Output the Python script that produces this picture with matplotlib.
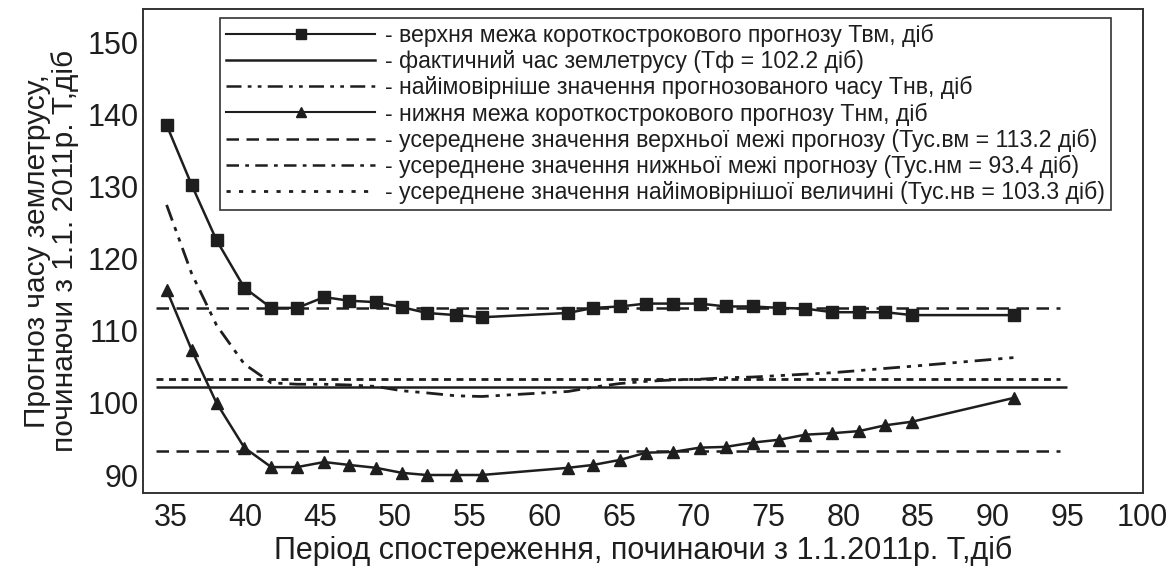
import matplotlib
matplotlib.use('Agg')
import matplotlib.pyplot as plt
from matplotlib.lines import Line2D

plt.rcParams['font.family'] = ['Liberation Sans', 'DejaVu Sans']

# observation period, days from 1.1.2011
period = [34.73, 36.4, 38.07, 39.93, 41.73, 43.47, 45.27, 46.93, 48.73, 50.47,
          52.13, 54.07, 55.8, 61.6, 63.27, 65.07, 66.8, 68.6, 70.4, 72.13,
          73.93, 75.73, 77.47, 79.27, 81.07, 82.8, 84.6, 91.4]

upper = [138.6, 130.3, 122.6, 116.0, 113.2, 113.2, 114.7, 114.2, 114.0, 113.3,
         112.5, 112.2, 111.9, 112.5, 113.2, 113.4, 113.8, 113.8, 113.8, 113.4,
         113.4, 113.2, 113.1, 112.6, 112.6, 112.6, 112.2, 112.2]

likely = [127.5, 118.0, 110.8, 105.4, 102.8, 102.6, 102.6, 102.5, 102.3, 101.7,
          101.4, 101.0, 100.9, 101.6, 102.2, 102.7, 103.0, 103.2, 103.3, 103.5,
          103.6, 103.8, 104.0, 104.2, 104.5, 104.8, 105.1, 106.3]

lower = [115.7, 107.4, 100.0, 93.8, 91.1, 91.1, 91.8, 91.4, 91.0, 90.3,
         90.0, 90.0, 90.0, 91.0, 91.4, 92.1, 93.1, 93.2, 93.8, 93.9,
         94.5, 94.9, 95.6, 95.8, 96.1, 96.9, 97.4, 100.7]

t_fact = 102.2
t_avg_upper = 113.2
t_avg_lower = 93.4
t_avg_likely = 103.3

labels = [
    '- верхня межа короткострокового прогнозу Твм, діб',
    '- фактичний час землетрусу (Тф = 102.2 діб)',
    '- найімовірніше значення прогнозованого часу Тнв, діб',
    '- нижня межа короткострокового прогнозу Тнм, діб',
    '- усереднене значення верхньої межі прогнозу (Тус.вм = 113.2 діб)',
    '- усереднене значення нижньої межі прогнозу (Тус.нм = 93.4 діб)',
    '- усереднене значення найімовірнішої величині (Тус.нв = 103.3 діб)',
]

ink = '#1e1e1e'
dash_dot_dot = (0, (6, 2.5, 1.5, 2.5, 1.5, 2.5))
dash_dot = (0, (5, 2.5, 1.5, 2.5))

fig = plt.figure(figsize=(11.73, 5.73), dpi=100)
ax = fig.add_axes([0.1219, 0.1396, 0.8525, 0.8447])

ax.hlines(t_avg_upper, 34, 94.5, colors=ink, linestyles=(0, (5, 3)), lw=1.8)
ax.hlines(t_avg_lower, 34, 94.5, colors=ink, linestyles=(0, (5, 3)), lw=1.8)
ax.hlines(t_avg_likely, 34, 94.5, colors=ink, linestyles=(0, (2.5, 2)), lw=2)
ax.hlines(t_fact, 34, 95, colors=ink, lw=1.8)

ax.plot(period, likely, color=ink, lw=2, linestyle=dash_dot_dot)
ax.plot(period, upper, color=ink, lw=1.8, marker='s', markersize=9)
ax.plot(period, lower, color=ink, lw=1.8, marker='^', markersize=8)

ax.set_xlim(33.15, 100.05)
ax.set_ylim(87.5, 154.7)
ax.set_xticks(range(35, 101, 5))
ax.set_yticks(range(90, 151, 10))
ax.tick_params(length=0, labelsize=22, colors=ink)
ax.tick_params(axis='x', pad=7)
ax.tick_params(axis='y', pad=3)
for s in ax.spines.values():
    s.set_color('#333333')
    s.set_linewidth(1.4)

ax.set_xlabel('Період спостереження, починаючи з 1.1.2011р. Т,діб',
              fontsize=22, color=ink, labelpad=2)
ax.set_ylabel('Прогноз часу землетрусу,\nпочинаючи з 1.1. 2011р. Т,діб',
              fontsize=21.5, color=ink, labelpad=6, linespacing=1.0)

handles = [
    Line2D([], [], color=ink, lw=1.5, marker='s', markersize=7),
    Line2D([], [], color=ink, lw=1.8),
    Line2D([], [], color=ink, lw=1.8, linestyle=dash_dot_dot),
    Line2D([], [], color=ink, lw=1.5, marker='^', markersize=7),
    Line2D([], [], color=ink, lw=1.8, linestyle=(0, (5, 3))),
    Line2D([], [], color=ink, lw=1.8, linestyle=dash_dot),
    Line2D([], [], color=ink, lw=2, linestyle=(0, (1.5, 3))),
]
leg = ax.legend(handles, labels, loc='upper left',
                bbox_to_anchor=(220 / 1173, 1 - 18 / 573),
                bbox_transform=fig.transFigure, borderaxespad=0,
                fontsize=16.7, handlelength=6.45, handletextpad=0.42,
                labelspacing=0.13, borderpad=0.25, fancybox=False,
                framealpha=1, edgecolor='#333333')
leg.get_frame().set_linewidth(1.2)
for t in leg.get_texts():
    t.set_color(ink)

fig.savefig('out.png', dpi=100)
